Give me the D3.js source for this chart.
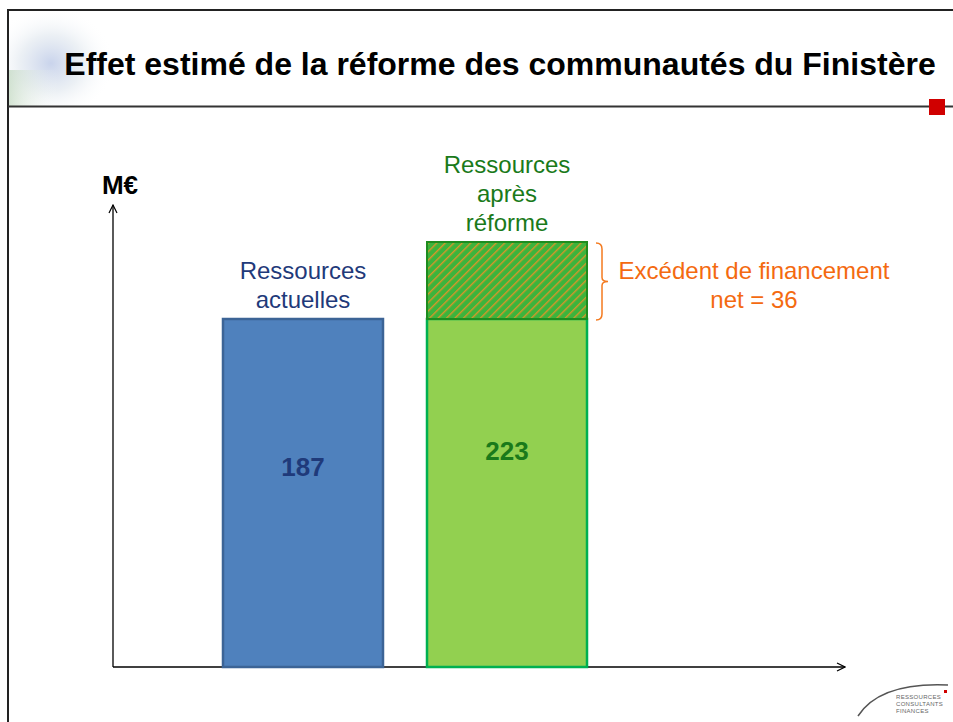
<!DOCTYPE html>
<html lang="fr">
<head>
<meta charset="UTF-8">
<script src="https://d3js.org/d3.v7.min.js"></script>
<style>
  body { margin: 0; background: #fff; }
  text { font-family: "Liberation Sans", Arial, sans-serif; }
</style>
</head>
<body>
<div id="chart"></div>
<script>
// data
var categories = ["Ressources actuelles", "Ressources après réforme"];
var labelLines = [["Ressources", "actuelles"], ["Ressources", "après", "réforme"]];
var baseValues = [187, 187];
var extraValues = [0, 36];
var totals = [187, 223];
var excessLabel = ["Excédent de financement", "net = 36"];

var W = 953, H = 722;
var svg = d3.select("#chart").append("svg")
  .attr("width", W).attr("height", H);

var defs = svg.append("defs");
// soft decoration top-left
var rg = defs.append("radialGradient").attr("id", "deco").attr("cx", "0.4").attr("cy", "0.55").attr("r", "0.6");
rg.append("stop").attr("offset", "0").attr("stop-color", "#9db0dc").attr("stop-opacity", 0.55);
rg.append("stop").attr("offset", "0.5").attr("stop-color", "#d4dee8").attr("stop-opacity", 0.45);
rg.append("stop").attr("offset", "1").attr("stop-color", "#fff").attr("stop-opacity", 0);
var lg = defs.append("linearGradient").attr("id", "decoG").attr("x1", 0).attr("x2", 1);
lg.append("stop").attr("offset", 0).attr("stop-color", "#a8c8a6").attr("stop-opacity", 0.5);
lg.append("stop").attr("offset", 1).attr("stop-color", "#fff").attr("stop-opacity", 0);

// hatch pattern
var pat = defs.append("pattern").attr("id", "hatch")
  .attr("patternUnits", "userSpaceOnUse").attr("width", 6).attr("height", 6)
  .attr("patternTransform", "rotate(45)");
pat.append("rect").attr("width", 6).attr("height", 6).attr("fill", "#3cb43c");
pat.append("rect").attr("width", 1.4).attr("height", 6).attr("fill", "#d8962a");

svg.append("rect").attr("x", 9).attr("y", 11).attr("width", 105).attr("height", 95).attr("fill", "url(#deco)");
svg.append("rect").attr("x", 9).attr("y", 70).attr("width", 50).attr("height", 36).attr("fill", "url(#decoG)");

// frame
svg.append("line").attr("x1", 7).attr("x2", W).attr("y1", 10).attr("y2", 10).attr("stroke", "#222").attr("stroke-width", 2);
svg.append("line").attr("x1", 8).attr("x2", 8).attr("y1", 9).attr("y2", H).attr("stroke", "#222").attr("stroke-width", 2);
svg.append("line").attr("x1", 8).attr("x2", W).attr("y1", 106.5).attr("y2", 106.5).attr("stroke", "#333").attr("stroke-width", 2);
svg.append("rect").attr("x", 929).attr("y", 99).attr("width", 16).attr("height", 16).attr("fill", "#d00000");

svg.append("text").attr("x", 500).attr("y", 75).attr("text-anchor", "middle")
  .attr("font-size", 32).attr("font-weight", "bold").attr("fill", "#000")
  .text("Effet estimé de la réforme des communautés du Finistère");

// scales
var x = d3.scaleBand().domain(categories).range([201, 609]).paddingInner(0.2157).paddingOuter(0.1078);
var axisY = 667;
var y = d3.scaleLinear().domain([187, 223]).range([319, 242]);

// axes with arrows
defs.append("marker").attr("id", "arrow").attr("viewBox", "0 0 10 10")
  .attr("refX", 9).attr("refY", 5).attr("markerWidth", 10).attr("markerHeight", 10)
  .attr("markerUnits", "userSpaceOnUse").attr("orient", "auto")
  .append("path").attr("d", "M1,1 L9,5 L1,9").attr("fill", "none").attr("stroke", "#000").attr("stroke-width", 1.2);

svg.append("line").attr("x1", 113).attr("x2", 113).attr("y1", axisY).attr("y2", 205)
  .attr("stroke", "#000").attr("stroke-width", 1.3).attr("marker-end", "url(#arrow)");
svg.append("line").attr("x1", 113).attr("x2", 845).attr("y1", axisY).attr("y2", axisY)
  .attr("stroke", "#000").attr("stroke-width", 1.3).attr("marker-end", "url(#arrow)");
svg.append("text").attr("x", 120).attr("y", 194).attr("text-anchor", "middle")
  .attr("font-size", 26).attr("font-weight", "bold").text("M€");

// bars
var fills = ["#4f81bd", "#92d050"];
var strokes = ["#3c6496", "#00b050"];
var textCols = ["#1f3a7a", "#1a7a1a"];

svg.selectAll(".base").data(categories).enter().append("rect")
  .attr("x", function(d) { return x(d); })
  .attr("y", function(d, i) { return y(baseValues[i]); })
  .attr("width", x.bandwidth())
  .attr("height", function(d, i) { return axisY - y(baseValues[i]); })
  .attr("fill", function(d, i) { return fills[i]; })
  .attr("stroke", function(d, i) { return strokes[i]; })
  .attr("stroke-width", 2.5);

svg.selectAll(".extra").data(categories.filter(function(d, i) { return extraValues[i] > 0; }))
  .enter().append("rect")
  .attr("x", function(d) { return x(d); })
  .attr("y", function(d) { var i = categories.indexOf(d); return y(totals[i]); })
  .attr("width", x.bandwidth())
  .attr("height", function(d) { var i = categories.indexOf(d); return y(baseValues[i]) - y(totals[i]); })
  .attr("fill", "url(#hatch)")
  .attr("stroke", "#1e8c1e").attr("stroke-width", 2);

// category labels above bars
categories.forEach(function(c, i) {
  var lines = labelLines[i];
  var top = y(totals[i]) - 11 - (lines.length - 1) * 29;
  lines.forEach(function(l, k) {
    svg.append("text").attr("x", x(c) + x.bandwidth() / 2).attr("y", top + k * 29)
      .attr("text-anchor", "middle").attr("font-size", 24).attr("fill", textCols[i]).text(l);
  });
});

// values in bars
var valueY = [476, 460];
categories.forEach(function(c, i) {
  svg.append("text").attr("x", x(c) + x.bandwidth() / 2).attr("y", valueY[i])
    .attr("text-anchor", "middle").attr("font-size", 26).attr("font-weight", "bold")
    .attr("fill", textCols[i]).text(totals[i]);
});

// brace for the excess
var bx = x(categories[1]) + x.bandwidth() + 9;
var bt = y(totals[1]) + 1, bb = y(baseValues[1]) + 1, bm = (bt + bb) / 2;
svg.append("path")
  .attr("d", "M" + bx + "," + bt + " q6,0 6,6 L" + (bx + 6) + "," + (bm - 4) + " q0,4 6,4 q-6,0 -6,4 L" + (bx + 6) + "," + (bb - 6) + " q0,6 -6,6")
  .attr("fill", "none").attr("stroke", "#f47a1f").attr("stroke-width", 1.5);

excessLabel.forEach(function(l, k) {
  svg.append("text").attr("x", 754).attr("y", 279 + k * 29).attr("text-anchor", "middle")
    .attr("font-size", 24).attr("fill", "#f46a10").text(l);
});

// logo bottom right
svg.append("path").attr("d", "M858,716 Q880,682 948,685")
  .attr("fill", "none").attr("stroke", "#555").attr("stroke-width", 1.5);
svg.append("rect").attr("x", 944).attr("y", 690).attr("width", 3).attr("height", 3).attr("fill", "#d00000");
["RESSOURCES", "CONSULTANTS", "FINANCES"].forEach(function(t, k) {
  svg.append("text").attr("x", 896).attr("y", 699 + k * 7).attr("font-size", 6)
    .attr("fill", "#666").attr("letter-spacing", 0.3).text(t);
});
</script>
</body>
</html>
